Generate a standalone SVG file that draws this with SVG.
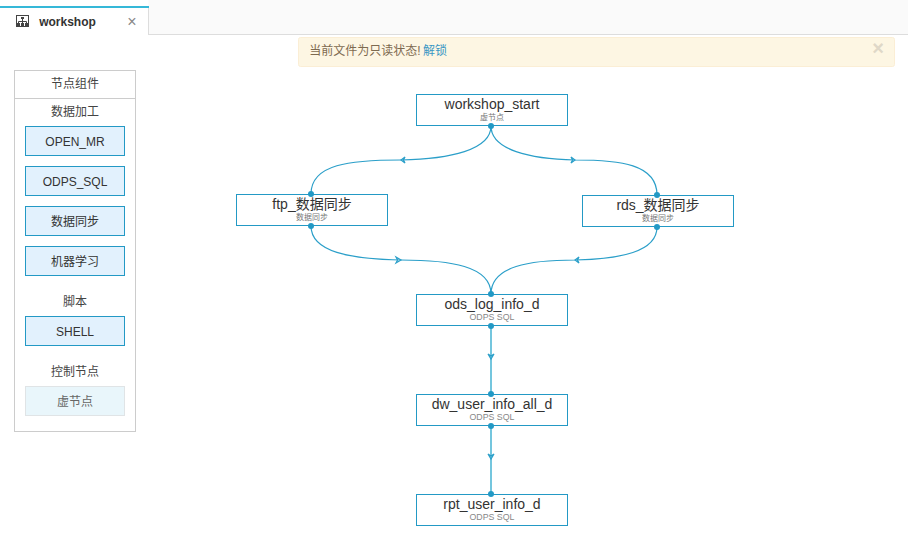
<svg xmlns="http://www.w3.org/2000/svg" width="908" height="534" viewBox="0 0 908 534">
<style>
text{font-family:"Liberation Sans","Noto Sans CJK SC",sans-serif;text-anchor:middle}
.n{fill:#fff;stroke:#2399c5;stroke-width:1}
.t{font-size:14px;fill:#333}
.s{font-size:8px;fill:#777}
.o{font-size:8.800px;fill:#888}
.d{fill:#2399c5}
.c{fill:none;stroke:#2b9fc9;stroke-width:1.2}
.v{fill:none;stroke:#74c6de;stroke-width:2}
.b{fill:#e2f1fd;stroke:#2399c5;stroke-width:1}
.bt{font-size:12px;fill:#333}
.h{font-size:12px;fill:#444}
.a{fill:none;stroke:#2b9fc9;stroke-width:1.200}
</style>
<rect width="908" height="534" fill="#fff"/>
<g id="tabbar">
<rect x="148.500" y="0" width="759.500" height="34.500" fill="#fafafa"/>
<line x1="148" y1="34.500" x2="908" y2="34.500" stroke="#ddd"/>
<line x1="148.500" y1="7" x2="148.500" y2="35" stroke="#ddd"/>
<rect x="0" y="6" width="149" height="2" fill="#35b8d8"/>
<g fill="none" stroke="#444" stroke-width="1"><rect x="16.500" y="15.500" width="12" height="11"/><path d="M22.500 17V21M18.500 25V21.500H26.500V25M22.500 21.500V25"/></g>
<g fill="#444"><rect x="21" y="17" width="3" height="2"/><rect x="17" y="23" width="3" height="3"/><rect x="21" y="23" width="3" height="3"/><rect x="25" y="23" width="3" height="3"/></g>
<text x="67.500" y="26" font-size="12px" font-weight="700" fill="#333">workshop</text>
<text x="132" y="27" font-size="16px" fill="#888">×</text>
</g>
<g id="notice">
<rect x="298.500" y="37.500" width="596" height="29" rx="2" fill="#fdf6e3" stroke="#fbeed5"/>
<text x="365" y="55" font-size="12px" fill="#7d6a50">当前文件为只读状态!</text>
<text x="435" y="55" font-size="12px" fill="#3a96c4">解锁</text>
<text x="878" y="55" font-size="20px" font-weight="700" fill="#dfd8c8">×</text>
</g>
<g id="palette">
<rect x="14.500" y="70.500" width="121" height="361" fill="#fff" stroke="#ccc"/>
<line x1="15" y1="98.500" x2="135" y2="98.500" stroke="#ccc"/>
<text x="75" y="88" class="h">节点组件</text>
<text x="75" y="116" class="h">数据加工</text>
<text x="75" y="306" class="h">脚本</text>
<text x="75" y="376" class="h">控制节点</text>
</g>
<g id="p-open-mr"><rect x="25.500" y="126.500" width="99" height="29" class="b"/><text x="75" y="146" class="bt">OPEN_MR</text></g>
<g id="p-odps-sql"><rect x="25.500" y="166.500" width="99" height="29" class="b"/><text x="75" y="186" class="bt">ODPS_SQL</text></g>
<g id="p-sync"><rect x="25.500" y="206.500" width="99" height="29" class="b"/><text x="75" y="226" class="bt">数据同步</text></g>
<g id="p-ml"><rect x="25.500" y="246.500" width="99" height="29" class="b"/><text x="75" y="266" class="bt">机器学习</text></g>
<g id="p-shell"><rect x="25.500" y="316.500" width="99" height="29" class="b"/><text x="75" y="336" class="bt">SHELL</text></g>
<g id="p-virtual"><rect x="25.500" y="386.500" width="99" height="29" fill="#e9f6fb" stroke="#e0e4e6"/><text x="75" y="406" class="bt" style="fill:#666">虚节点</text></g>
<g id="connectors">
<path class="c" d="M491 126C491 150 450 159 401 160C350 160 311 164 311 194"/>
<path class="c" d="M491 126C491 150 530 159 575 160C620 160 657 164 657 195"/>
<path class="c" d="M311 226C311 252 350 259 401 260C450 260 491 266 491 294"/>
<path class="c" d="M657 227C657 252 620 259 575 260C530 260 491 266 491 294"/>
<path class="v" d="M491 326V394"/>
<path class="v" d="M491 426V494"/>
<path class="a" d="M405 157L401 160L405 163L403.500 160Z"/>
<path class="a" d="M571 157L575 160L571 163L572.500 160Z"/>
<path class="a" d="M396 257L401 260L396 263L397.500 260Z"/>
<path class="a" d="M579 257L575 260L579 263L577.500 260Z"/>
<path class="a" d="M488 354L491 359L494 354L491 356Z"/>
<path class="a" d="M488 454L491 459L494 454L491 456Z"/>
</g>
<g id="workshop_start"><rect x="416.500" y="94.500" width="151" height="31" class="n"/><text x="492" y="109" class="t">workshop_start</text><text x="492" y="120" class="s">虚节点</text><circle cx="491" cy="126" r="3" class="d"/></g>
<g id="ftp"><rect x="236.500" y="194.500" width="151" height="31" class="n"/><text x="312" y="209" class="t">ftp_数据同步</text><text x="312" y="220" class="s">数据同步</text><circle cx="311" cy="194" r="3" class="d"/><circle cx="311" cy="226" r="3" class="d"/></g>
<g id="rds"><rect x="582.500" y="195.500" width="151" height="31" class="n"/><text x="658" y="210" class="t">rds_数据同步</text><text x="658" y="221" class="s">数据同步</text><circle cx="657" cy="195" r="3" class="d"/><circle cx="657" cy="227" r="3" class="d"/></g>
<g id="ods_log_info_d"><rect x="416.500" y="294.500" width="151" height="31" class="n"/><text x="492" y="309" class="t">ods_log_info_d</text><text x="492" y="320" class="o">ODPS SQL</text><circle cx="491" cy="294" r="3" class="d"/><circle cx="491" cy="326" r="3" class="d"/></g>
<g id="dw_user_info_all_d"><rect x="416.500" y="394.500" width="151" height="31" class="n"/><text x="492" y="409" class="t">dw_user_info_all_d</text><text x="492" y="420" class="o">ODPS SQL</text><circle cx="491" cy="394" r="3" class="d"/><circle cx="491" cy="426" r="3" class="d"/></g>
<g id="rpt_user_info_d"><rect x="416.500" y="494.500" width="151" height="31" class="n"/><text x="492" y="509" class="t">rpt_user_info_d</text><text x="492" y="520" class="o">ODPS SQL</text><circle cx="491" cy="494" r="3" class="d"/></g>
</svg>
